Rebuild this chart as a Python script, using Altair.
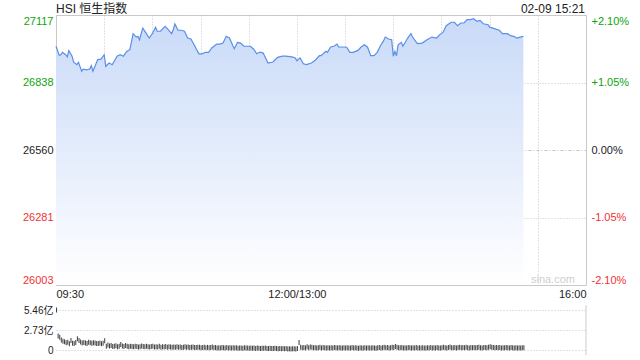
import altair as alt
import pandas as pd

# ---------------- data ----------------
title_text = "HSI 恒生指数"
date_text = "02-09 15:21"
watermark_text = "sina.com"
prev_close = 26560

am_times = ["09:30", "09:32", "09:33", "09:34", "09:36", "09:37", "09:38", "09:40", "09:41", "09:43",
            "09:44", "09:46", "09:47", "09:49", "09:51", "09:52", "09:53", "09:56", "09:58", "10:00",
            "10:01", "10:03", "10:05", "10:08", "10:10", "10:12", "10:14", "10:16", "10:18", "10:20",
            "10:21", "10:22", "10:24", "10:26", "10:28", "10:30", "10:32", "10:33", "10:35", "10:38",
            "10:40", "10:42", "10:43", "10:44", "10:46", "10:48", "10:50", "10:52", "10:54", "10:56",
            "10:59", "11:01", "11:03", "11:05", "11:07", "11:10", "11:12", "11:14", "11:16", "11:18",
            "11:20", "11:21", "11:23", "11:25", "11:27", "11:31", "11:33", "11:35", "11:37", "11:39",
            "11:42", "11:45", "11:48", "11:51", "11:53", "11:57", "11:59", "12:00"]
am_values = [26988, 26951, 26953, 26963, 26953, 26944, 26970, 26947, 26922, 26912,
             26922, 26885, 26894, 26891, 26894, 26908, 26885, 26933, 26935, 26953,
             26905, 26919, 26912, 26947, 26953, 26947, 26967, 26974, 27040, 27026,
             27029, 27015, 27063, 27043, 27022, 27040, 27067, 27050, 27050, 27070,
             27056, 27040, 27056, 27080, 27054, 27054, 27050, 27022, 27018, 26994,
             26957, 26957, 26963, 26963, 26981, 26997, 26997, 27001, 27029, 27022,
             26992, 26978, 27004, 27001, 26988, 26988, 26977, 26957, 26964, 26960,
             26919, 26923, 26942, 26947, 26947, 26944, 26940, 26928]
pm_times = ["13:02", "13:04", "13:06", "13:09", "13:11", "13:14", "13:15", "13:18", "13:19", "13:21",
            "13:23", "13:25", "13:26", "13:28", "13:31", "13:33", "13:35", "13:38", "13:40", "13:42",
            "13:44", "13:46", "13:48", "13:50", "13:52", "13:54", "13:55", "13:57", "13:59", "14:00",
            "14:01", "14:02", "14:03", "14:05", "14:06", "14:09", "14:11", "14:12", "14:15", "14:18",
            "14:21", "14:24", "14:27", "14:29", "14:31", "14:33", "14:36", "14:38", "14:40", "14:42",
            "14:44", "14:46", "14:48", "14:50", "14:52", "14:54", "14:56", "14:59", "15:00", "15:02",
            "15:06", "15:08", "15:11", "15:13", "15:15", "15:17", "15:19", "15:21"]
pm_values = [26940, 26916, 26912, 26919, 26928, 26949, 26949, 26967, 26963, 26985,
             26988, 26997, 26985, 26985, 26984, 26963, 26963, 26971, 26985, 26994,
             26984, 26949, 26949, 26963, 26990, 27011, 27026, 27018, 27015, 26947,
             26967, 26949, 26994, 27004, 26988, 27022, 27040, 27026, 26999, 27001,
             27015, 27026, 27022, 27036, 27046, 27073, 27087, 27087, 27073, 27084,
             27084, 27098, 27098, 27102, 27091, 27095, 27081, 27077, 27067, 27063,
             27054, 27040, 27040, 27032, 27029, 27022, 27026, 27029]

# volume per trading minute (亿), from 09:30
volumes = [5.46,
           1.92, 1.75, 1.38, 1.20, 1.12, 0.98, 1.05, 0.86, 1.30, 0.92,
           0.88, 1.02, 1.55, 1.28, 1.10, 0.96, 1.02, 0.94, 0.90, 1.05,
           0.98, 0.92, 1.00, 0.95, 0.88, 0.90, 0.97, 0.86, 0.93, 1.25,
           0.52, 0.68, 0.55, 0.60, 0.48, 0.52, 0.58, 0.46, 0.50, 0.75,
           0.55, 0.48, 0.60, 0.52, 0.45, 0.50, 0.47, 0.44, 0.52, 0.49,
           0.42, 0.46, 0.55, 0.48, 0.43, 0.50, 0.46, 0.41, 0.48, 0.52,
           0.40, 0.45, 0.42, 0.50, 0.38, 0.44, 0.41, 0.47, 0.39, 0.43,
           0.40, 0.36, 0.42, 0.38, 0.45, 0.37, 0.41, 0.35, 0.39, 0.44,
           0.36, 0.40, 0.34, 0.38, 0.42, 0.35, 0.33, 0.39, 0.36, 0.31,
           0.34, 0.38, 0.32, 0.36, 0.30, 0.35, 0.40, 0.31, 0.33, 0.29,
           0.32, 0.28, 0.34, 0.30, 0.27, 0.33, 0.29, 0.31, 0.26, 0.30,
           0.28, 0.32, 0.25, 0.29, 0.27, 0.24, 0.30, 0.26, 0.28, 0.23,
           0.27, 0.25, 0.29, 0.22, 0.26, 0.24, 0.21, 0.25, 0.23, 0.27,
           0.22, 0.20, 0.24, 0.21, 0.19, 0.23, 0.20, 0.18, 0.22, 0.17,
           0.20, 0.16, 0.19, 0.15, 0.18, 0.14, 0.17, 0.16, 0.15, 0.22,
           1.02, 0.38, 0.30, 0.34, 0.28, 0.45, 0.32, 0.40, 0.36, 0.30,
           0.34, 0.28, 0.31, 0.36, 0.27, 0.33, 0.30, 0.26, 0.32, 0.29,
           0.31, 0.27, 0.35, 0.30, 0.28, 0.33, 0.29, 0.26, 0.31, 0.28,
           0.30, 0.26, 0.29, 0.33, 0.27, 0.31, 0.28, 0.25, 0.30, 0.27,
           0.29, 0.32, 0.27, 0.30, 0.26, 0.29, 0.31, 0.28, 0.25, 0.30,
           0.33, 0.28, 0.31, 0.36, 0.30, 0.34, 0.29, 0.32, 0.38, 0.35,
           0.48, 0.36, 0.32, 0.30, 0.34, 0.29, 0.31, 0.28, 0.33, 0.30,
           0.27, 0.31, 0.29, 0.33, 0.28, 0.30, 0.26, 0.32, 0.29, 0.27,
           0.30, 0.28, 0.33, 0.27, 0.31, 0.29, 0.34, 0.28, 0.26, 0.30,
           0.36, 0.31, 0.29, 0.34, 0.40, 0.32, 0.30, 0.35, 0.29, 0.33,
           0.38, 0.31, 0.34, 0.30, 0.36, 0.32, 0.29, 0.35, 0.31, 0.33,
           0.30, 0.34, 0.37, 0.32, 0.29, 0.35, 0.33, 0.31, 0.36, 0.46,
           0.38, 0.33, 0.30, 0.35, 0.31, 0.34, 0.29, 0.32, 0.30, 0.33,
           0.31, 0.28, 0.33, 0.30, 0.27, 0.32, 0.29, 0.31, 0.28, 0.30, 0.32]

y_ticks = [26003, 26281, 26560, 26838, 27117]
pct_labels = ["-2.10%", "-1.05%", "0.00%", "+1.05%", "+2.10%"]
x_grid_minutes = [0, 30, 60, 90, 120, 150, 180, 210, 240, 270, 300, 330]
x_tick_minutes = [0, 150, 330]
x_tick_labels = ["09:30", "12:00/13:00", "16:00"]
vol_ticks = [0, 2.73, 5.46]
vol_labels = ["0", "2.73亿", "5.46亿"]

# ---------------- helpers ----------------
FONT = "Liberation Sans, Arial, Noto Sans CJK SC, sans-serif"
GREEN = "#0ea30e"
RED = "#f03232"
DARK = "#222222"
GRID = "#c4c4c4"


def trading_minute(t):
    h, m = map(int, t.split(":"))
    mins = h * 60 + m
    if mins <= 12 * 60:
        return mins - (9 * 60 + 30)
    return mins - 13 * 60 + 150


def label_expr(vals, labels):
    parts = [f"datum.value == {v} ? '{l}'" for v, l in zip(vals, labels)]
    return " : ".join(parts) + " : ''"


price_df = pd.DataFrame({
    "t": [trading_minute(t) for t in am_times + pm_times],
    "v": am_values + pm_values,
})
vol_df = pd.DataFrame({
    "t": list(range(len(volumes))),
    "vol": volumes,
})
vol_df["t2"] = vol_df["t"] + 0.65

xscale = alt.Scale(domain=[0, 330], nice=False, zero=False)
yscale = alt.Scale(domain=[y_ticks[0], y_ticks[-1]], nice=False, zero=False)

color_cond = {
    "condition": [
        {"test": f"datum.value > {prev_close}", "value": GREEN},
        {"test": f"datum.value < {prev_close}", "value": RED},
    ],
    "value": DARK,
}
dash_cond = {
    "condition": {"test": f"datum.value == {prev_close}", "value": [3, 2, 1, 2]},
    "value": [1, 2],
}

xaxis = alt.Axis(values=x_grid_minutes, labelExpr=label_expr(x_tick_minutes, x_tick_labels),
                 grid=True, gridColor=GRID, gridDash=[1, 2], domain=False, ticks=False,
                 labelFlush=True, labelOverlap=False, labelPadding=3, labelFontSize=11,
                 labelColor=DARK, labelFont=FONT, title=None)
yaxis_left = alt.Axis(values=y_ticks, format="d", grid=True, gridColor=GRID, gridDash=dash_cond,
                      domain=False, ticks=False, labelFlush=True, labelOverlap=False,
                      labelPadding=3, labelFontSize=11, labelFont=FONT,
                      labelColor=color_cond, title=None)
yaxis_right = alt.Axis(values=y_ticks, orient="right", labelExpr=label_expr(y_ticks, pct_labels),
                       grid=False, domain=False, ticks=False, labelFlush=True, labelOverlap=False,
                       labelPadding=5, labelFontSize=11, labelFont=FONT,
                       labelColor=color_cond, title=None)

gradient = alt.Gradient(gradient="linear",
                        stops=[alt.GradientStop(color="#c9daf8", offset=0),
                               alt.GradientStop(color="#ffffff", offset=1)],
                        x1=1, x2=1, y1=0, y2=1)

area = alt.Chart(price_df).mark_area(color=gradient).encode(
    x=alt.X("t:Q", scale=xscale, axis=xaxis),
    y=alt.Y("v:Q", scale=yscale, axis=yaxis_left),
    y2=alt.datum(y_ticks[0]),
)
line = alt.Chart(price_df).mark_line(color="#5a8ee8", strokeWidth=1.2).encode(
    x=alt.X("t:Q", scale=xscale, axis=xaxis),
    y=alt.Y("v:Q", scale=yscale, axis=yaxis_left),
)
title_mark = alt.Chart(pd.DataFrame({"s": [title_text]})).mark_text(
    align="left", baseline="alphabetic", fontSize=12, font=FONT, color=DARK
).encode(x=alt.value(0), y=alt.value(-2), text="s:N")
date_mark = alt.Chart(pd.DataFrame({"s": [date_text]})).mark_text(
    align="right", baseline="alphabetic", fontSize=12, font=FONT, color=DARK
).encode(x=alt.value(529), y=alt.value(-2), text="s:N")
wm_mark = alt.Chart(pd.DataFrame({"s": [watermark_text]})).mark_text(
    align="right", baseline="middle", fontSize=11, font=FONT, color="#cfcfcf"
).encode(x=alt.value(519), y=alt.value(265), text="s:N")

price_layer = alt.layer(area, line, title_mark, date_mark, wm_mark)

pct_layer = alt.Chart(pd.DataFrame({"y": y_ticks})).mark_point(opacity=0).encode(
    y=alt.Y("y:Q", scale=alt.Scale(domain=[y_ticks[0], y_ticks[-1]], nice=False, zero=False),
            axis=yaxis_right)
)

main = alt.layer(price_layer, pct_layer).resolve_scale(y="independent").properties(
    width=530, height=270,
    view=alt.ViewBackground(stroke="#cccccc"),
)

vol_axis = alt.Axis(values=vol_ticks, labelExpr=label_expr(vol_ticks, vol_labels), grid=True,
                    gridColor=GRID, gridDash=[1, 2], domain=False, ticks=False, labelFlush=True,
                    labelOverlap=False, labelPadding=3, labelFontSize=10, labelFont=FONT,
                    labelColor=DARK, title=None)

bars = alt.Chart(vol_df).mark_bar(color="#444444").encode(
    x=alt.X("t:Q", scale=xscale, axis=None),
    x2="t2:Q",
    y=alt.Y("vol:Q", scale=alt.Scale(domain=[0, vol_ticks[-1]], nice=False), axis=vol_axis),
)
right_edge = alt.Chart(pd.DataFrame({"x": [x_grid_minutes[-1]]})).mark_rule(color="#cccccc").encode(
    x=alt.X("x:Q", scale=xscale, axis=None)
)
vol = alt.layer(bars, right_edge).properties(
    width=530, height=50, view=alt.ViewBackground(stroke="transparent")
)

chart = alt.vconcat(main, vol, spacing=20, bounds="flush").properties(
    padding={"left": 21, "top": 2, "right": 10, "bottom": 5}
).configure(font=FONT)

chart.save("out.html", embed_options={"renderer": "svg", "actions": False})
